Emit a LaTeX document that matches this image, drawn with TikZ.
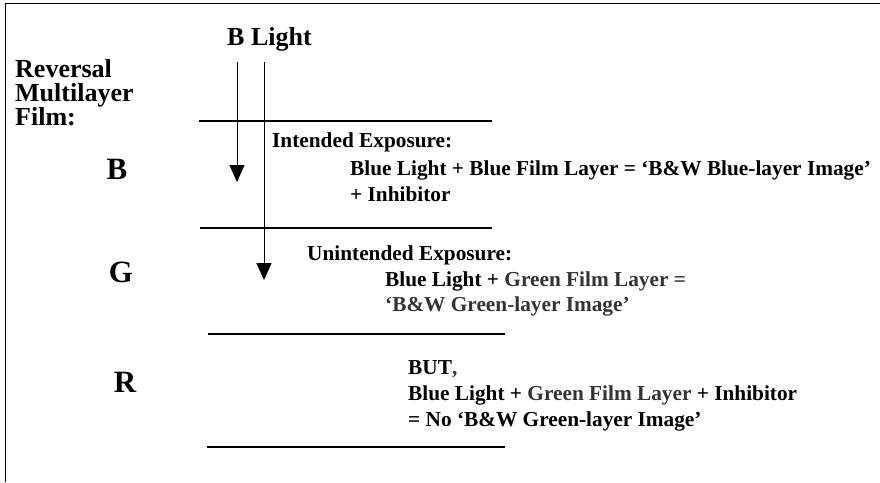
\documentclass[tikz,border=0pt]{standalone}
\usepackage{fontspec}
\setmainfont{Liberation Serif}
\usetikzlibrary{arrows.meta}
\tikzset{
txt/.style={anchor=base west, inner sep=0pt,
	font=\fontsize{21.3}{25}\selectfont\bfseries},
head/.style={txt, font=\fontsize{26}{30}\selectfont\bfseries},
layer/.style={anchor=base, inner sep=0pt,
	font=\fontsize{31}{36}\selectfont\bfseries},
boundary/.style={line width=1.5pt},
ray/.style={line width=1pt, -{Triangle[width=15pt,length=17pt]}}
}
\newcommand{\grn}[1]{\textcolor{black!80}{#1}}

\begin{document}
\begin{tikzpicture}[x=1pt, y=-1pt]
	\useasboundingbox (0,0) rectangle (880,482);
	\draw[line width=1.5pt] (5.5,482) -- (5.5,3.5) -- (880,3.5);
	% film stack
	\node[head] (rev) at (15,77) {Reversal};
	\node[head] (multi) at (15,101) {Multilayer};
	\node[head] (film) at (15,125) {Film:};
	\node[head] (blight) at (227,45) {B Light};
	\node[layer] (layB) at (117,179) {B};
	\node[layer] (layG) at (121,282) {G};
	\node[layer] (layR) at (125,392) {R};
	\draw[boundary] (199,121) -- (492,121);
	\draw[boundary] (200,228) -- (492,228);
	\draw[boundary] (208,334) -- (505,334);
	\draw[boundary] (207,447) -- (505,447);
	% light rays
	\coordinate (s1) at (237,62);
	\coordinate (t1) at (237,182);
	\coordinate (s2) at (264,62);
	\coordinate (t2) at (264,280);
	\draw[ray] (s1) -- (t1);
	\draw[ray] (s2) -- (t2);
	% blue layer
	\node[txt] (intended) at (272,147) {Intended Exposure:};
	\node[txt] (blueeq) at (350,175) {Blue Light + Blue Film Layer = `B\&W Blue-layer Image'};
	\node[txt] (inhib) at (350,201) {+ Inhibitor};
	% green layer
	\node[txt] (unintended) at (307,260) {Unintended Exposure:};
	\node[txt] (greeneq) at (385,286) {Blue Light + \grn{Green Film Layer =}};
	\node[txt] (greenimg) at (385,311) {\grn{`B\&W Green-layer Image'}};
	% red layer
	\node[txt] (but) at (408,374) {BUT\grn{,}};
	\node[txt] (inhibeq) at (408,400) {Blue Light + \grn{Green Film Layer} + Inhibitor};
	\node[txt] (noimg) at (408,426) {= No `B\&W Green-layer Image'};
\end{tikzpicture}
\end{document}
